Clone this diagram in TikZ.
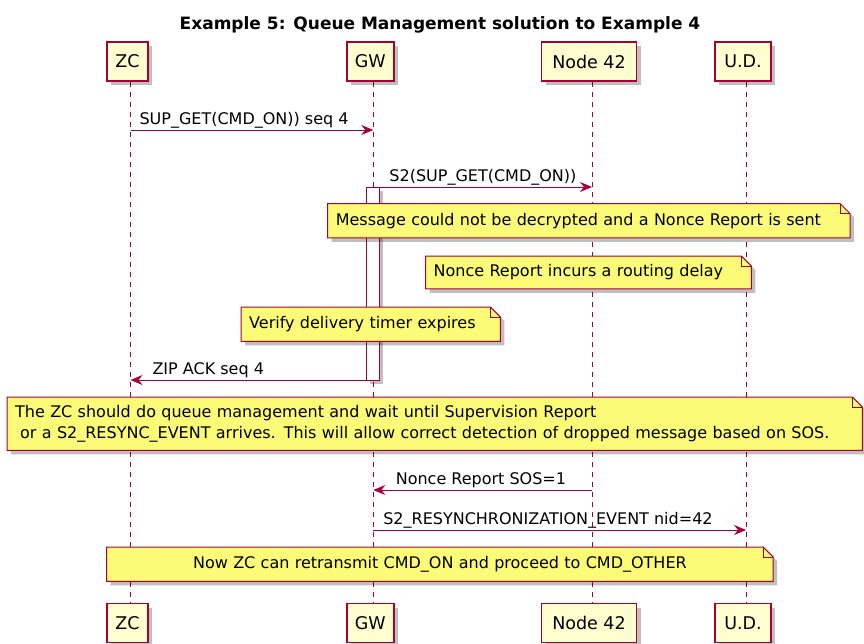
\documentclass[tikz,border=0pt]{standalone}
\usepackage{fontspec}
\setmainfont{DejaVu Sans}
\usetikzlibrary{arrows.meta,shadows}
\pgfdeclarelayer{background}
\pgfsetlayers{background,main}
\definecolor{umlred}{HTML}{A80036}
\definecolor{partfill}{HTML}{FEFECE}
\definecolor{notefill}{HTML}{FBFB77}
\tikzset{
  participant/.style={draw=umlred, fill=partfill, line width=1.5pt, minimum height=39pt,
    inner xsep=8pt, font=\fontsize{17.5}{20}\selectfont,
    drop shadow={shadow xshift=4pt, shadow yshift=-4pt, opacity=0.25, fill=black}},
  lifeline/.style={umlred, line width=0.9pt, dash pattern=on 5pt off 5pt},
  msg/.style={umlred, line width=1pt, -{Stealth[length=12pt,width=10pt,inset=4pt]}},
  lbl/.style={text=black, font=\fontsize{16}{19}\selectfont, inner sep=0pt},
  notetext/.style={anchor=north west, align=left, inner xsep=8pt, inner ysep=0pt,
    font=\fontsize{16}{21}\selectfont},
  noteline/.style={draw=umlred, fill=notefill, line width=1pt},
  actbar/.style={draw=umlred, fill=white, line width=1pt, minimum width=13.3pt, inner sep=0pt,
    drop shadow={shadow xshift=3pt, shadow yshift=-3pt, opacity=0.25, fill=black}}
}
% note box with folded corner, drawn behind its text
\newcommand{\dognote}[1]{%
  \begin{pgfonlayer}{background}
    \filldraw[noteline, drop shadow={shadow xshift=4pt, shadow yshift=-4pt, opacity=0.25, fill=black}]
      (#1.south west) -- (#1.north west) -- ([xshift=-10pt]#1.north east)
      -- ([yshift=-10pt]#1.north east) -- (#1.south east) -- cycle;
    \draw[umlred, line width=1pt] ([xshift=-10pt]#1.north east) |- ([yshift=-10pt]#1.north east);
  \end{pgfonlayer}}
\begin{document}
\begin{tikzpicture}[x=1pt, y=-1pt]
\useasboundingbox (0,0) rectangle (864,643);

\node[font=\bfseries\fontsize{17}{20}\selectfont, anchor=base] (title) at (440,29)
  {Example 5: Queue Management solution to Example 4};

% participants
\node[participant, minimum width=41pt] (zc) at (127.5,61.5) {ZC};
\node[participant, minimum width=47pt] (gw) at (370.3,61.5) {GW};
\node[participant, minimum width=95pt] (node42) at (589,61.5) {Node 42};
\node[participant, minimum width=56pt] (ud) at (743,61.5) {U.D.};

\node[participant, minimum width=41pt] (zcb) at (127.5,623) {ZC};
\node[participant, minimum width=47pt] (gwb) at (370.3,623) {GW};
\node[participant, minimum width=95pt] (node42b) at (589,623) {Node 42};
\node[participant, minimum width=56pt] (udb) at (743,623) {U.D.};

\coordinate (zcl) at ([xshift=3pt]zc.south);
\coordinate (gwl) at ([xshift=3pt]gw.south);
\coordinate (n42l) at ([xshift=3pt]node42.south);
\coordinate (udl) at ([xshift=3pt]ud.south);

% message rows
\coordinate (m1) at (0,130);
\coordinate (m2) at (0,187);
\coordinate (m3) at (0,380);
\coordinate (m4) at (0,490);
\coordinate (m5) at (0,530);

\begin{pgfonlayer}{background}
  \draw[lifeline] (zcl) -- ([xshift=3pt]zcb.north);
  \draw[lifeline] (gwl) -- ([xshift=3pt]gwb.north);
  \draw[lifeline] (n42l) -- ([xshift=3pt]node42b.north);
  \draw[lifeline] (udl) -- ([xshift=3pt]udb.north);
  \node[actbar, anchor=north, minimum height=193pt] (act) at (gwl |- m2) {};
\end{pgfonlayer}

% messages
\draw[msg] (zcl |- m1) -- node[lbl, at start, anchor=base west, xshift=8.5pt, yshift=6pt]
  {SUP\_GET(CMD\_ON)) seq 4} (gwl |- m1);
\draw[msg] (act.east |- m2) -- node[lbl, at start, anchor=base west, xshift=8.5pt, yshift=6pt]
  {S2(SUP\_GET(CMD\_ON))} (n42l |- m2);
\draw[msg] (act.west |- m3) -- node[lbl, at end, anchor=base west, xshift=21.5pt, yshift=6pt]
  {ZIP ACK seq 4} (zcl |- m3);
\draw[msg] (n42l |- m4) -- node[lbl, at end, anchor=base west, xshift=22pt, yshift=6pt]
  {Nonce Report SOS=1} (gwl |- m4);
\draw[msg] (gwl |- m5) -- node[lbl, at start, anchor=base west, xshift=9.5pt, yshift=6pt]
  {S2\_RESYNCHRONIZATION\_EVENT nid=42} (udl |- m5);

% notes
\node[notetext, text width=506pt, minimum height=34pt] (decrypt) at (327.6,203.5)
  {Message could not be decrypted and a Nonce Report is sent};
\dognote{decrypt}
\node[notetext, text width=309.5pt, minimum height=32.5pt] (delay) at (425.5,256)
  {Nonce Report incurs a routing delay};
\dognote{delay}
\node[notetext, text width=243pt, minimum height=34pt] (timer) at (241,307)
  {Verify delivery timer expires};
\dognote{timer}
\node[notetext, text width=839pt, minimum height=53pt] (queue) at (7,397)
  {The ZC should do queue management and wait until Supervision Report\\
   \hspace*{5pt}or a S2\_RESYNC\_EVENT arrives. This will allow correct detection of dropped message based on SOS.};
\dognote{queue}
\node[notetext, align=center, text width=650pt, minimum height=34pt] (retry) at (106.7,547)
  {Now ZC can retransmit CMD\_ON and proceed to CMD\_OTHER\hspace*{20pt}};
\dognote{retry}
\end{tikzpicture}
\end{document}
